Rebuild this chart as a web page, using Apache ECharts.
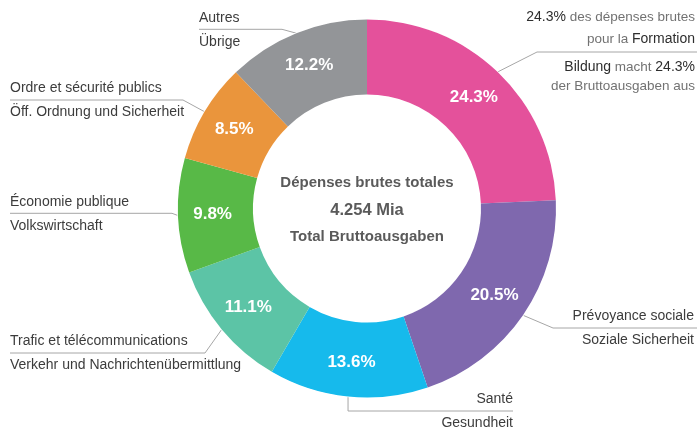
<!DOCTYPE html>
<html>
<head>
<meta charset="utf-8">
<script src="https://cdn.jsdelivr.net/npm/echarts@6/dist/echarts.min.js"></script>
<style>html,body{margin:0;padding:0;background:#fff;}#c{width:697px;height:429px;}</style>
</head>
<body>
<div id="c"></div>
<script>
const categoriesFr = ['Formation', 'Prévoyance sociale', 'Santé', 'Trafic et télécommunications', 'Économie publique', 'Ordre et sécurité publics', 'Autres'];
const categoriesDe = ['Bildung', 'Soziale Sicherheit', 'Gesundheit', 'Verkehr und Nachrichtenübermittlung', 'Volkswirtschaft', 'Öff. Ordnung und Sicherheit', 'Übrige'];
const values = [24.3, 20.5, 13.6, 11.1, 9.8, 8.5, 12.2];
const colors = ['#E4519B', '#7F68AE', '#16BAEC', '#5CC4A6', '#58B947', '#EA953C', '#939598'];
const centerLines = ['Dépenses brutes totales', '4.254 Mia', 'Total Bruttoausgaben'];

const FONT = "'Liberation Sans', Arial, sans-serif";
const CX = 367, CY = 208.5, R0 = 114, R1 = 189;

// label placement (layout only)
const labelPos = [
  {x: 695, y: 50.75, align: 'right', lineY: 52, bendX: 537, endX: 697},
  {x: 694, y: 328.5, align: 'right', lineY: 328, bendX: 553, endX: 697},
  {x: 513, y: 411.5, align: 'right', lineY: 411, bendX: null, endX: 513},
  {x: 10, y: 353.5, align: 'left', lineY: 353, bendX: 205, endX: 10},
  {x: 10, y: 214, align: 'left', lineY: 213.3, bendX: 172, endX: 10},
  {x: 10, y: 100.5, align: 'left', lineY: 100, bendX: 183, endX: 10},
  {x: 199, y: 30, align: 'left', lineY: 29.3, bendX: 282, endX: 199}
];

const total = values.reduce((a, b) => a + b, 0);
const midAngles = [];
let acc = 0;
values.forEach(v => { midAngles.push((acc + v / 2) / total * 2 * Math.PI); acc += v; });

const data = values.map((v, i) => ({name: categoriesFr[i], value: v, itemStyle: {color: colors[i]}}));

const chart = echarts.init(document.getElementById('c'), null, {renderer: 'canvas'});
chart.setOption({
  animation: false,
  series: [
    {
      type: 'pie',
      center: [CX, CY],
      radius: [R0, R1],
      startAngle: 90,
      clockwise: true,
      silent: true,
      avoidLabelOverlap: false,
      itemStyle: {borderColor: '#fff', borderWidth: 1.5},
      label: {
        show: true, position: 'inside',
        formatter: p => p.value.toFixed(1) + '%',
        color: '#fff', fontFamily: FONT, fontWeight: 'bold', fontSize: 17
      },
      labelLine: {show: false},
      data: data
    },
    {
      type: 'pie',
      center: [CX, CY],
      radius: [R0, R1],
      startAngle: 90,
      clockwise: true,
      silent: true,
      avoidLabelOverlap: false,
      itemStyle: {color: 'rgba(0,0,0,0)', borderWidth: 0},
      label: {
        show: true, position: 'outside',
        fontFamily: FONT, fontSize: 14, color: '#3c3c3c', lineHeight: 24,
        formatter: p => {
          const i = p.dataIndex;
          if (i === 0) {
            const pc = p.value.toFixed(1) + '%';
            return '{d1|' + pc + '}{l1| des dépenses brutes}\n{l1|pour la }{d1|' + categoriesFr[i] + '}\n{sp| }\n{d2|' + categoriesDe[i] + '}{l2| macht }{d2|' + pc + '}\n{l2|der Bruttoausgaben aus}';
          }
          return '{a|' + categoriesFr[i] + '}\n{a|' + categoriesDe[i] + '}';
        },
        rich: {
          a: {fontFamily: FONT, fontSize: 14, color: '#3c3c3c', lineHeight: 24},
          d1: {fontFamily: FONT, fontSize: 14, color: '#2e2e2e', lineHeight: 22},
          l1: {fontFamily: FONT, fontSize: 13.5, color: '#727272', lineHeight: 22},
          d2: {fontFamily: FONT, fontSize: 14, color: '#2e2e2e', lineHeight: 19},
          l2: {fontFamily: FONT, fontSize: 13.5, color: '#727272', lineHeight: 19},
          sp: {fontSize: 1, lineHeight: 7.5}
        }
      },
      labelLine: {show: true, lineStyle: {color: '#a6a6a6', width: 1}},
      labelLayout: function (p) {
        const i = p.dataIndex;
        const L = labelPos[i];
        const a = midAngles[i];
        const s = [CX + R1 * Math.sin(a), CY - R1 * Math.cos(a)];
        const bend = L.bendX === null ? [s[0], L.lineY] : [L.bendX, L.lineY];
        return {
          x: L.x, y: L.y, align: L.align, verticalAlign: 'middle',
          labelLinePoints: [s, bend, [L.endX, L.lineY]]
        };
      },
      data: data
    }
  ],
  graphic: centerLines.map((t, i) => ({
    type: 'text',
    x: CX, y: [183, 210, 237][i],
    style: {
      text: t, align: 'center', verticalAlign: 'middle',
      font: 'bold ' + (i === 1 ? 16.5 : 15) + 'px ' + FONT,
      fill: '#5a5a5a'
    }
  }))
});
</script>
</body>
</html>
